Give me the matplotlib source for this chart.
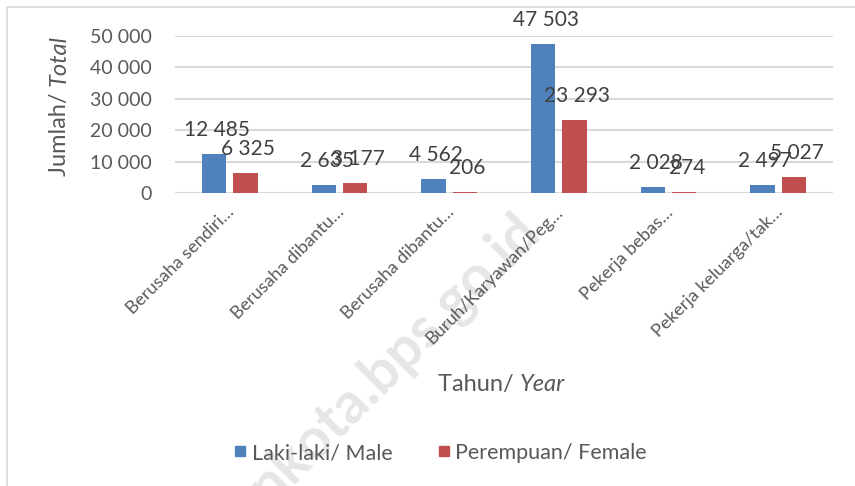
import matplotlib
matplotlib.use('Agg')
import matplotlib.pyplot as plt
import matplotlib.transforms as mtransforms
from matplotlib.patches import Rectangle
from matplotlib.lines import Line2D
import numpy as np

# data
categories = ['Berusaha sendiri…', 'Berusaha dibantu…', 'Berusaha dibantu…',
              'Buruh/Karyawan/Peg…', 'Pekerja bebas…', 'Pekerja keluarga/tak…']
laki = [12485, 2635, 4562, 47503, 2028, 2497]
perempuan = [6325, 3177, 206, 23293, 274, 5027]
series_names = ['Laki-laki/ Male', 'Perempuan/ Female']
yticks = [0, 10000, 20000, 30000, 40000, 50000]

BLUE = '#4F81BD'
RED = '#C0504D'
GRID = '#D9D9D9'
TXT = '#595959'

plt.rcParams['font.family'] = ['Lato', 'DejaVu Sans']

W, H = 855, 486
fig = plt.figure(figsize=(W / 100, H / 100), dpi=100)


def px(x, y):
    # pixel position (from top-left) -> figure fraction
    return x / W, 1 - y / H


# watermark behind everything
wx, wy = px(542, 234)
fig.text(wx, wy, 'nkota.bps.go.id', fontsize=41, fontweight='bold', color='#E6E6E6',
         rotation=45, rotation_mode='anchor', ha='right', va='baseline', zorder=-5)

# chart border (left and top only visible)
fig.add_artist(Rectangle(px(7, 490), (W + 10) / W, 483 / H, transform=fig.transFigure,
                         fill=False, edgecolor=GRID, linewidth=1.2, clip_on=False))

ax = fig.add_axes([175 / W, 1 - 193 / H, (833 - 175) / W, (193 - 36) / H])
ax.set_facecolor('none')

x = np.arange(len(categories))
bw = 0.22
off = 0.143
ax.bar(x - off, laki, bw, color=BLUE, zorder=3, label=series_names[0])
ax.bar(x + off, perempuan, bw, color=RED, zorder=3, label=series_names[1])


def fmt(v):
    return f'{v:,.0f}'.replace(',', ' ')


for xs, vals in ((x - off, laki), (x + off, perempuan)):
    for xi, v in zip(xs, vals):
        ax.annotate(fmt(v), (xi, v), xytext=(2, 10), textcoords='offset points',
                    ha='center', va='bottom', fontsize=15, color='#404040', zorder=4)

ax.set_xlim(-0.5, len(categories) - 0.5)
ax.set_ylim(0, 50000)
ax.set_yticks(yticks)
ax.set_yticklabels([fmt(v) for v in yticks], fontsize=14, color=TXT)
ax.yaxis.grid(True, color=GRID, linewidth=1.5, zorder=0)
ax.set_axisbelow(True)
for s in ax.spines.values():
    s.set_visible(False)
ax.tick_params(axis='y', length=0, pad=17)
ax.tick_params(axis='x', length=0, pad=12)

ax.set_xticks(x)
ax.set_xticklabels(categories, rotation=45, ha='right', va='center',
                   rotation_mode='anchor', fontsize=13, color=TXT)
shift = mtransforms.ScaledTranslation(2 / 100, 0, fig.dpi_scale_trans)
for lab in ax.get_xticklabels():
    lab.set_transform(lab.get_transform() + shift)

# axis titles with italic English part
fx, fy = px(520, 391)
fig.text(fx, fy, 'Tahun/ ', ha='right', va='baseline', fontsize=17, color=TXT)
fig.text(fx, fy, 'Year', ha='left', va='baseline', fontsize=17, color=TXT, style='italic')

fx, fy = px(66, 86)
fig.text(fx, fy, 'Jumlah/ ', rotation=90, rotation_mode='anchor', ha='right',
         va='baseline', fontsize=17, color=TXT)
fig.text(fx, fy, 'Total', rotation=90, rotation_mode='anchor', ha='left',
         va='baseline', fontsize=17, color=TXT, style='italic')

handles = [Line2D([], [], marker='s', linestyle='none', markersize=7, color=c)
           for c in (BLUE, RED)]
fig.legend(handles, series_names, loc='center', bbox_to_anchor=px(440, 453),
           ncol=2, frameon=False, fontsize=15.5, labelcolor=TXT,
           handletextpad=0.2, columnspacing=2.0, handlelength=0.7)

fig.savefig('out.png', dpi=100)
